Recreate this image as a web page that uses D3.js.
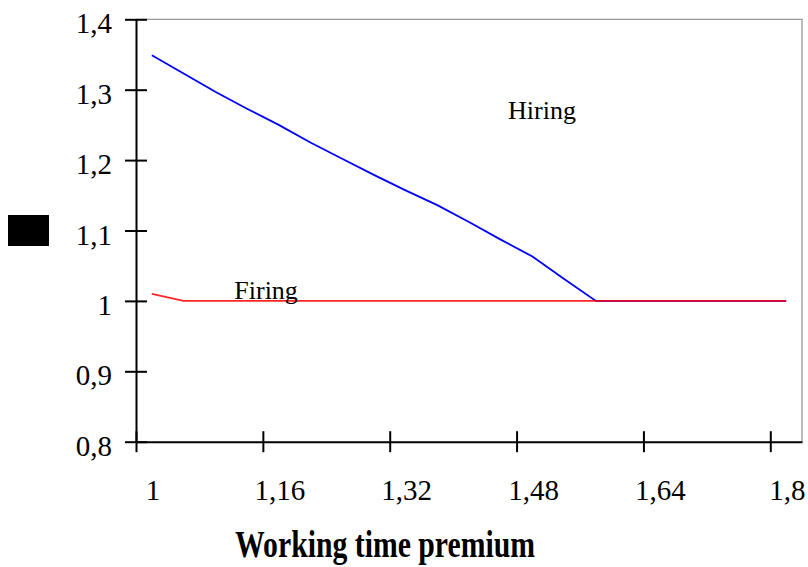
<!DOCTYPE html>
<html>
<head>
<meta charset="utf-8">
<script src="https://cdn.jsdelivr.net/npm/d3@7"></script>
<style>
  body { margin: 0; background: #fff; }
  svg { display: block; }
  text { font-family: "Liberation Serif", "Times New Roman", serif; fill: #000; }
</style>
</head>
<body>
<svg width="808" height="567"></svg>
<script>
// values
var premium = [1.02, 1.06, 1.10, 1.14, 1.18, 1.22, 1.26, 1.30, 1.34, 1.38, 1.42,
               1.46, 1.50, 1.54, 1.58, 1.62, 1.66, 1.70, 1.74, 1.78, 1.82];
var hiring  = [1.349, 1.323, 1.297, 1.273, 1.25, 1.225, 1.202, 1.179, 1.157, 1.136, 1.112,
               1.087, 1.063, 1.031, 1, 1, 1, 1, 1, 1, 1];
var firing  = [1.01, 1, 1, 1, 1, 1, 1, 1, 1, 1, 1,
               1, 1, 1, 1, 1, 1, 1, 1, 1, 1];

var xTicks = [1, 1.16, 1.32, 1.48, 1.64, 1.8];
var xTickLabels = ["1", "1,16", "1,32", "1,48", "1,64", "1,8"];
var yTicks = [0.8, 0.9, 1, 1.1, 1.2, 1.3, 1.4];
var yTickLabels = ["0,8", "0,9", "1", "1,1", "1,2", "1,3", "1,4"];

function createChart() {
  var svg = d3.select("svg"),
      left = 136, right = 802, top = 19.3, bottom = 441.7;

  var x = d3.scaleLinear().domain([1, 1.84]).range([left, right]);
  var y = d3.scaleLinear().domain([0.8, 1.4]).range([bottom, top]);

  // grey frame on top and right
  svg.append("path")
      .attr("d", "M" + left + "," + top + "H" + right + "V" + bottom)
      .attr("fill", "none")
      .attr("stroke", "#999")
      .attr("stroke-width", 1.3);

  // black box where the y title sits
  svg.append("rect")
      .attr("x", 8).attr("y", 215)
      .attr("width", 41).attr("height", 31)
      .attr("fill", "#000");

  var line = d3.line()
      .x(function(d, i) { return x(premium[i]); })
      .y(function(d) { return y(d); });

  svg.append("path")
      .datum(hiring)
      .attr("fill", "none")
      .attr("stroke", "#0000ff")
      .attr("stroke-width", 1.8)
      .attr("d", line);

  svg.append("path")
      .datum(firing)
      .attr("fill", "none")
      .attr("stroke", "#ff0000")
      .attr("stroke-width", 1.8)
      .attr("stroke-opacity", 0.85)
      .attr("d", line);

  var xAxis = svg.append("g")
      .attr("transform", "translate(0," + bottom + ")")
      .call(d3.axisBottom(x)
        .tickValues(xTicks)
        .tickSizeOuter(0)
        .tickFormat(function(d, i) { return xTickLabels[i]; }));

  xAxis.selectAll(".tick line").attr("y1", -10.5).attr("y2", 10.5);
  xAxis.selectAll(".tick text")
      .attr("y", 58.3).attr("dy", 0).attr("dx", 16.5)
      .style("font-size", "29px")
      .style("font-family", "Liberation Serif, serif");

  var yAxis = svg.append("g")
      .attr("transform", "translate(" + left + ",0)")
      .call(d3.axisLeft(y)
        .tickValues(yTicks)
        .tickSizeOuter(0)
        .tickFormat(function(d, i) { return yTickLabels[i]; }));

  yAxis.selectAll(".tick line").attr("x1", -11).attr("x2", 11);
  yAxis.selectAll(".tick text")
      .attr("x", -24).attr("dy", 13.5)
      .style("font-size", "29px")
      .style("font-family", "Liberation Serif, serif");

  svg.selectAll(".domain, .tick line")
      .attr("stroke", "#000")
      .attr("stroke-width", 2);

  svg.append("text")
      .attr("x", 508).attr("y", 119.3)
      .style("font-size", "26px")
      .text("Hiring");

  svg.append("text")
      .attr("x", 234.3).attr("y", 299.3)
      .style("font-size", "26px")
      .text("Firing");

  svg.append("text")
      .attr("x", 385).attr("y", 556.7)
      .attr("text-anchor", "middle")
      .attr("textLength", 300)
      .attr("lengthAdjust", "spacingAndGlyphs")
      .style("font-size", "37px")
      .style("font-weight", "bold")
      .text("Working time premium");
}

createChart();
</script>
</body>
</html>
